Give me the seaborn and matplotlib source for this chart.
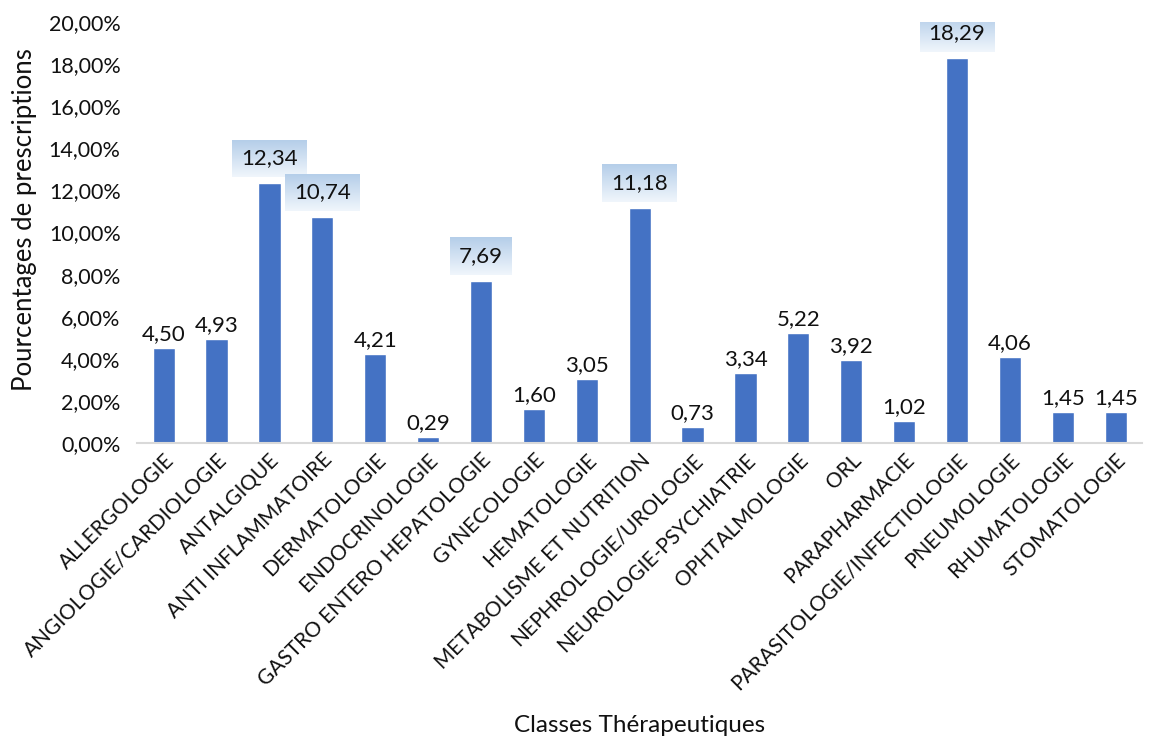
import numpy as np
import pandas as pd
import matplotlib
matplotlib.use("Agg")
import matplotlib.pyplot as plt
import seaborn as sns

categories = [
    "ALLERGOLOGIE", "ANGIOLOGIE/CARDIOLOGIE", "ANTALGIQUE", "ANTI INFLAMMATOIRE",
    "DERMATOLOGIE", "ENDOCRINOLOGIE", "GASTRO ENTERO HEPATOLOGIE", "GYNECOLOGIE",
    "HEMATOLOGIE", "METABOLISME ET NUTRITION", "NEPHROLOGIE/UROLOGIE",
    "NEUROLOGIE-PSYCHIATRIE", "OPHTALMOLOGIE", "ORL", "PARAPHARMACIE",
    "PARASITOLOGIE/INFECTIOLOGIE", "PNEUMOLOGIE", "RHUMATOLOGIE", "STOMATOLOGIE",
]
percentages = [4.50, 4.93, 12.34, 10.74, 4.21, 0.29, 7.69, 1.60, 3.05, 11.18,
               0.73, 3.34, 5.22, 3.92, 1.02, 18.29, 4.06, 1.45, 1.45]
y_ticks = [0, 2, 4, 6, 8, 10, 12, 14, 16, 18, 20]

sns.set_theme(style="white")
plt.rcParams["font.family"] = ["Lato", "DejaVu Sans"]

df = pd.DataFrame({"classe": categories, "pct": percentages})

fig = plt.figure(figsize=(11.63, 7.43), dpi=100)
ax = fig.add_axes([0.118, 0.404, 0.864, 0.566])

sns.barplot(data=df, x="classe", y="pct", color="#4472C4", saturation=1,
            width=0.42, ax=ax)

ax.set_ylim(0, 20)
ax.set_xlim(-0.5, len(categories) - 0.5)
ax.set_yticks(y_ticks)
ax.set_yticklabels([f"{v:.2f}".replace(".", ",") + "%" for v in y_ticks],
                   fontsize=15.5, color="#111111")
ax.tick_params(axis="y", length=0, pad=12)
ax.tick_params(axis="x", length=0, pad=5)
ax.set_xticks(range(len(categories)))
ax.set_xticklabels(categories, rotation=45, ha="right", rotation_mode="anchor",
                   fontsize=15, color="#111111")

for side in ["left", "right", "top"]:
    ax.spines[side].set_visible(False)
ax.spines["bottom"].set_color("#d9d9d9")
ax.spines["bottom"].set_linewidth(1.5)

ax.set_ylabel("Pourcentages de prescriptions", fontsize=18.5, color="#111111")
ax.yaxis.set_label_coords(-0.1, 0.53)
ax.set_xlabel("Classes Thérapeutiques", fontsize=17.5, color="#111111")
ax.xaxis.set_label_coords(0.5, -0.648)

# value labels; the largest classes get a light-blue gradient callout
texts = []
for i, v in enumerate(percentages):
    label = f"{v:.2f}".replace(".", ",")
    if v > 7:
        t = ax.annotate(label, (i, v), xytext=(0, 18), textcoords="offset points",
                        ha="center", va="center", fontsize=16, color="#111111",
                        zorder=5)
        texts.append(t)
    else:
        ax.annotate(label, (i, v), xytext=(0, 10), textcoords="offset points",
                    ha="center", va="center", fontsize=16, color="#111111")

fig.canvas.draw()
renderer = fig.canvas.get_renderer()
grad = np.linspace(0, 1, 64).reshape(-1, 1)
cmap = matplotlib.colors.LinearSegmentedColormap.from_list(
    "callout", ["#f0f6fc", "#b5cee9"])
inv = ax.transData.inverted()
for t in texts:
    bb = t.get_window_extent(renderer)
    x0, y0 = inv.transform((bb.x0 - 9, bb.y0 - 9))
    x1, y1 = inv.transform((bb.x1 + 9, bb.y1 + 8))
    ax.imshow(grad, extent=(x0, x1, y1, y0), cmap=cmap, aspect="auto",
              zorder=4, origin="upper", interpolation="bicubic")
ax.set_xlim(-0.5, len(categories) - 0.5)
ax.set_ylim(0, 20)

fig.savefig("out.png", dpi=100)
